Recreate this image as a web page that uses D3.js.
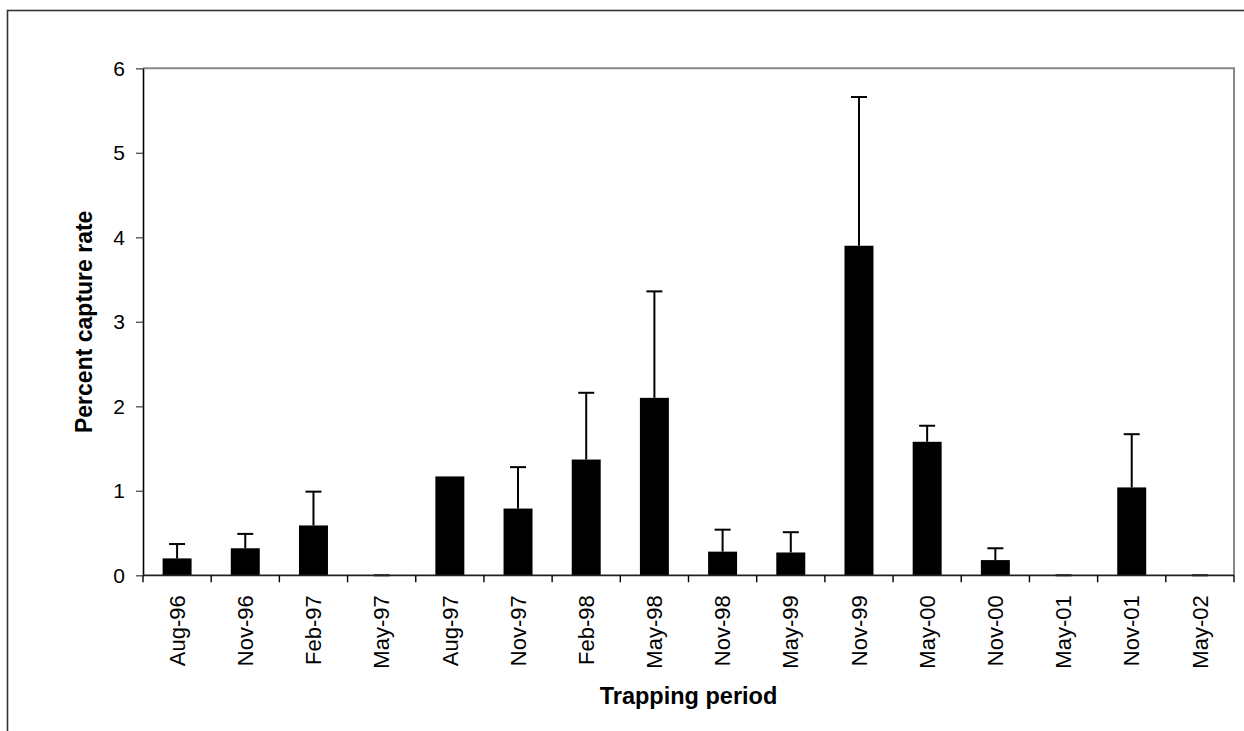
<!DOCTYPE html>
<html>
<head>
<meta charset="utf-8">
<script src="https://cdn.jsdelivr.net/npm/d3@7"></script>
<style>
  html, body { margin: 0; padding: 0; background: #fff; }
  svg { display: block; font-family: Arial, "Liberation Sans", sans-serif; }
</style>
</head>
<body>
<svg id="chart" width="1244" height="731"></svg>
<script>
// Trapping periods
const categories = ["Aug-96","Nov-96","Feb-97","May-97","Aug-97","Nov-97","Feb-98","May-98",
                    "Nov-98","May-99","Nov-99","May-00","Nov-00","May-01","Nov-01","May-02"];
// Mean percent capture rate per period
const captureRate = [0.2, 0.32, 0.59, 0, 1.17, 0.79, 1.37, 2.1, 0.28, 0.27, 3.9, 1.58, 0.18, 0, 1.04, 0];
// Upper error (standard error) per period
const captureError = [0.17, 0.17, 0.4, 0, 0, 0.49, 0.79, 1.26, 0.26, 0.24, 1.76, 0.19, 0.14, 0, 0.63, 0];
// Y axis ticks
const yTicks = [0, 1, 2, 3, 4, 5, 6];

const rows = categories.map((c, i) => ({ cat: c, v: captureRate[i], e: captureError[i] }));

const svg = d3.select("#chart");
const plotLeft = 143, plotRight = 1234, plotTop = 68.3, plotBottom = 575.3;

// outer chart frame (runs off the right and bottom edges)
svg.append("rect")
  .attr("x", 7.5).attr("y", 10.5)
  .attr("width", 1260).attr("height", 760)
  .attr("fill", "none").attr("stroke", "#333").attr("stroke-width", 1.6);

const x = d3.scaleBand().domain(categories).range([plotLeft, plotRight])
  .paddingInner(0.575).paddingOuter(0.2875);
const y = d3.scaleLinear().domain([0, 6]).range([plotBottom, plotTop]);

// plot area frame: top and right edges in grey
svg.append("path")
  .attr("d", `M${plotLeft},${plotTop}H${plotRight}V${plotBottom}`)
  .attr("fill", "none").attr("stroke", "#888").attr("stroke-width", 2);

// bars
svg.append("g").selectAll("rect").data(rows).join("rect")
  .attr("x", d => x(d.cat))
  .attr("width", x.bandwidth())
  .attr("y", d => y(d.v))
  .attr("height", d => y(0) - y(d.v))
  .attr("fill", "#000");

// error bars (upper only); a zero error on a non-zero bar is hidden by the bar
const capHalf = 8;
const withErr = rows.filter(d => d.e > 0 || d.v === 0);
const eb = svg.append("g").attr("stroke", "#000").attr("stroke-width", 2);
eb.selectAll("line.stem").data(withErr).join("line").attr("class", "stem")
  .attr("x1", d => x(d.cat) + x.bandwidth() / 2)
  .attr("x2", d => x(d.cat) + x.bandwidth() / 2)
  .attr("y1", d => y(d.v))
  .attr("y2", d => y(d.v + d.e));
eb.selectAll("line.cap").data(withErr).join("line").attr("class", "cap")
  .attr("x1", d => x(d.cat) + x.bandwidth() / 2 - capHalf)
  .attr("x2", d => x(d.cat) + x.bandwidth() / 2 + capHalf)
  .attr("y1", d => y(d.v + d.e))
  .attr("y2", d => y(d.v + d.e));

// y axis
const yAxis = svg.append("g").attr("transform", `translate(${plotLeft},0)`)
  .call(d3.axisLeft(y).tickValues(yTicks).tickFormat(d3.format("d"))
        .tickSize(7).tickSizeOuter(0).tickPadding(11));
yAxis.select(".domain").attr("stroke", "#000").attr("stroke-width", 1.6);
yAxis.selectAll(".tick line").attr("stroke", "#555").attr("stroke-width", 1.4);
yAxis.selectAll(".tick text").attr("font-size", 21).attr("fill", "#000")
  .attr("font-family", "Arial, 'Liberation Sans', sans-serif");

// x axis with labels centred on each period
const xAxis = svg.append("g").attr("transform", `translate(0,${plotBottom})`)
  .call(d3.axisBottom(x).tickSize(0).tickPadding(0));
xAxis.select(".domain").attr("d", `M${plotLeft},0H${plotRight}`)
  .attr("stroke", "#222").attr("stroke-width", 1.8);
xAxis.selectAll(".tick text")
  .attr("font-size", 22).attr("fill", "#000")
  .attr("font-family", "Arial, 'Liberation Sans', sans-serif")
  .attr("text-anchor", "end")
  .attr("transform", "rotate(-90)")
  .attr("x", -20).attr("y", 0).attr("dy", "0.35em");

// category boundary tick marks
const bounds = d3.range(categories.length + 1).map(i => plotLeft + i * x.step());
xAxis.append("g").selectAll("line").data(bounds).join("line")
  .attr("x1", d => d).attr("x2", d => d)
  .attr("y1", 0).attr("y2", 7)
  .attr("stroke", "#000").attr("stroke-width", 1.4);

// axis titles
svg.append("text")
  .attr("transform", `translate(92,${(plotTop + plotBottom) / 2}) rotate(-90)`)
  .attr("text-anchor", "middle")
  .attr("font-size", 23).attr("font-weight", "bold")
  .text("Percent capture rate");

svg.append("text")
  .attr("x", (plotLeft + plotRight) / 2).attr("y", 704)
  .attr("text-anchor", "middle")
  .attr("font-size", 23.5).attr("font-weight", "bold")
  .text("Trapping period");
</script>
</body>
</html>
